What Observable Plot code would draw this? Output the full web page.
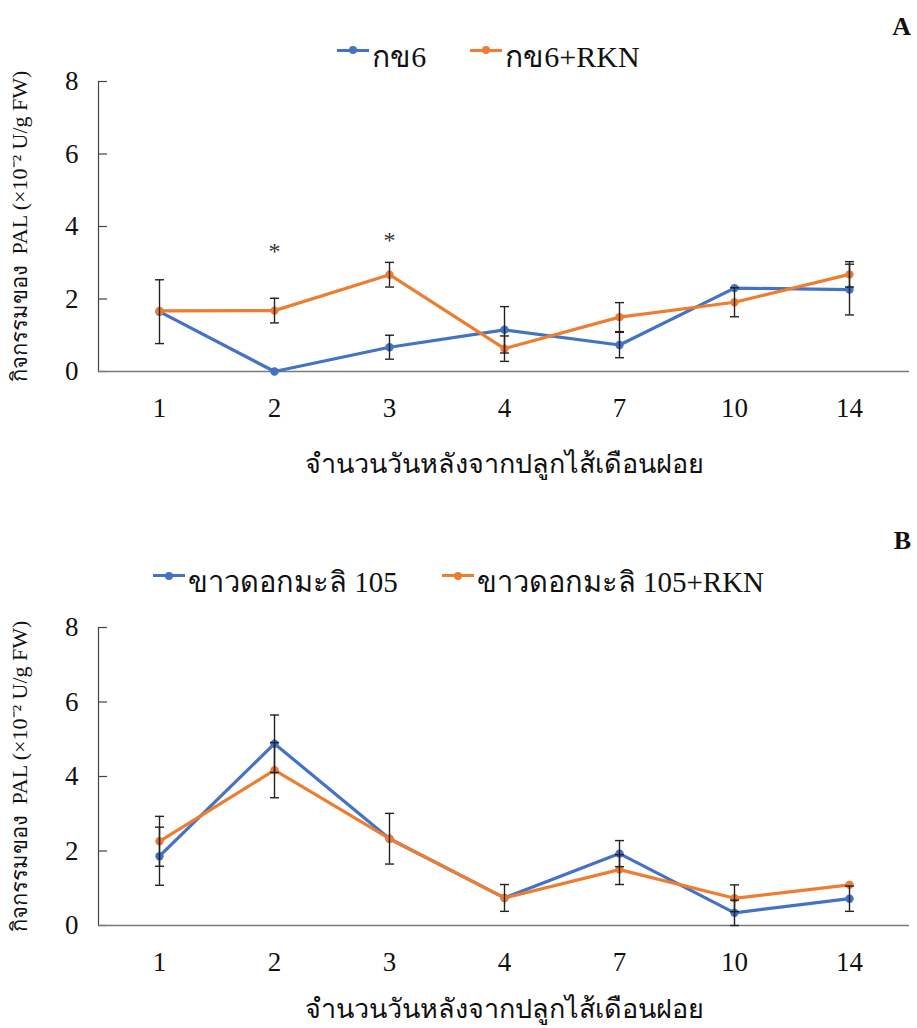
<!DOCTYPE html>
<html><head><meta charset="utf-8">
<script src="https://cdn.jsdelivr.net/npm/d3@7"></script>
<script src="https://cdn.jsdelivr.net/npm/@observablehq/plot@0.6"></script>
<style>
body{margin:0;background:#fff;font-family:"Liberation Serif","Times New Roman",serif;color:#111}
#root{position:relative;width:917px;height:1028px;overflow:hidden;background:#fff}
.hdr{position:relative;width:917px}
.letter{position:absolute;right:6px;font-weight:bold;font-size:26px}
.legend{position:absolute;left:0;width:917px;display:flex;justify-content:center;align-items:center;font-size:30px;line-height:1;box-sizing:border-box}
.item{display:flex;align-items:center;margin:0 22px}
.sw{display:inline-block;width:32px;height:3px;position:relative;margin-right:3px;margin-top:-14px}
.sw::after{content:"";position:absolute;left:12px;top:-2.5px;width:8px;height:8px;border-radius:50%;background:inherit}
svg{display:block}
</style></head>
<body><div id="root"></div>
<script>
const days = ["1","2","3","4","7","10","14"];
const yTicks = [0, 2, 4, 6, 8];
// Panel A
const aNames = ["กข6", "กข6+RKN"];
const aKK6 = [1.65, 0.00, 0.67, 1.15, 0.73, 2.30, 2.26];
const aKK6Err = [0.88, 0, 0.33, 0.64, 0.35, 0, 0.70];
const aKK6RKN = [1.67, 1.68, 2.67, 0.63, 1.50, 1.91, 2.68];
const aKK6RKNErr = [0, 0.34, 0.34, 0.35, 0.40, 0.40, 0.35];
const aSig = ["", "*", "*", "", "", "", ""];
const aSigY = [null, 3.42, 3.72, null, null, null, null];
// Panel B
const bNames = ["ขาวดอกมะลิ 105", "ขาวดอกมะลิ 105+RKN"];
const bKDML = [1.86, 4.88, 2.33, 0.74, 1.93, 0.34, 0.72];
const bKDMLErr = [0.78, 0.77, 0, 0, 0.35, 0.34, 0.34];
const bKDMLRKN = [2.26, 4.17, 2.33, 0.74, 1.50, 0.73, 1.09];
const bKDMLRKNErr = [0.67, 0.74, 0.68, 0.36, 0.40, 0.36, 0];

const xLabel = "จำนวนวันหลังจากปลูกไส้เดือนฝอย";
const yLabel = "กิจกรรมของ  PAL (×10⁻² U/g FW)";
const colors = ["#4472C4", "#ED7D31"];
const FONT = '"Liberation Serif","Times New Roman",serif';
const capSymbol = {draw(ctx) { ctx.moveTo(-4.5, 0); ctx.lineTo(4.5, 0); }};

function header(letter, names, h, letterTop, legendTop, padLeft, fontSize) {
  const d = document.createElement("div");
  d.className = "hdr"; d.style.height = h + "px";
  const L = document.createElement("div");
  L.className = "letter"; L.textContent = letter; L.style.top = letterTop + "px";
  d.appendChild(L);
  const lg = document.createElement("div");
  lg.className = "legend"; lg.style.top = legendTop + "px";
  lg.style.paddingLeft = padLeft + "px"; lg.style.fontSize = fontSize + "px";
  names.forEach((n, i) => {
    const it = document.createElement("div"); it.className = "item";
    const sw = document.createElement("span"); sw.className = "sw"; sw.style.background = colors[i];
    const t = document.createElement("span"); t.textContent = n;
    it.appendChild(sw); it.appendChild(t); lg.appendChild(it);
  });
  d.appendChild(lg);
  return d;
}

function panel(names, s1, e1, s2, e2, sig, sigY, height, marginTop, marginBottom, xLabelOffset) {
  const rows = days.flatMap((d, i) => [
    {day: d, v: s1[i], e: e1[i], s: names[0]},
    {day: d, v: s2[i], e: e2[i], s: names[1]}
  ]);
  const errs = rows.filter(r => r.e > 0);
  const sigs = days.map((d, i) => ({day: d, t: sig ? sig[i] : "", y: sigY ? sigY[i] : null})).filter(r => r.t);
  const marginLeft = 98, marginRight = 8, width = 917;
  const innerW = width - marginLeft - marginRight;
  return Plot.plot({
    width, height, marginTop, marginBottom, marginLeft, marginRight,
    style: {fontFamily: FONT, fontSize: "27px", color: "#111", background: "#fff", overflow: "visible"},
    x: {type: "point", domain: days, padding: 0.5},
    y: {domain: [0, 8]},
    color: {domain: names, range: colors},
    marks: [
      Plot.axisY({ticks: yTicks, tickSize: 0, tickPadding: 20, label: null, fontSize: 27}),
      Plot.axisY({ticks: [], label: yLabel, labelAnchor: "center", labelArrow: "none", labelOffset: 87, fontSize: 22}),
      Plot.axisX({tickSize: 0, tickPadding: 26, label: null, fontSize: 27}),
      Plot.axisX({ticks: [], label: xLabel, labelAnchor: "center", labelArrow: "none", labelOffset: xLabelOffset, fontSize: 27}),
      Plot.ruleY(yTicks, {insetRight: innerW - 9, stroke: "#444", strokeWidth: 1.2}),
      Plot.frame({anchor: "left", stroke: "#444", strokeWidth: 1.2}),
      Plot.ruleY([0], {stroke: "#7a7a7a", strokeWidth: 1.6}),
      Plot.line(rows, {x: "day", y: "v", stroke: "s", strokeWidth: 3.2}),
      Plot.dot(rows, {x: "day", y: "v", fill: "s", r: 4.2}),
      Plot.ruleX(errs, {x: "day", y1: d => d.v - d.e, y2: d => d.v + d.e, stroke: "#222", strokeWidth: 1.4}),
      Plot.dot(errs, {x: "day", y: d => d.v + d.e, symbol: capSymbol, stroke: "#222", strokeWidth: 1.4, fill: "none"}),
      Plot.dot(errs, {x: "day", y: d => d.v - d.e, symbol: capSymbol, stroke: "#222", strokeWidth: 1.4, fill: "none"}),
      Plot.text(sigs, {x: "day", y: "y", text: "t", fontSize: 24, fill: "#333", dy: 4})
    ]
  });
}

const root = document.getElementById("root");
root.appendChild(header("A", aNames, 70, 12, 42, 60, 30));
root.appendChild(panel(aNames, aKK6, aKK6Err, aKK6RKN, aKK6RKNErr, aSig, aSigY, 420, 11, 119, 101));
root.appendChild(header("B", bNames, 110, 36, 78, 0, 29));
root.appendChild(panel(bNames, bKDML, bKDMLErr, bKDMLRKN, bKDMLRKNErr, null, null, 428, 27, 103, 92));
</script>
</body></html>
